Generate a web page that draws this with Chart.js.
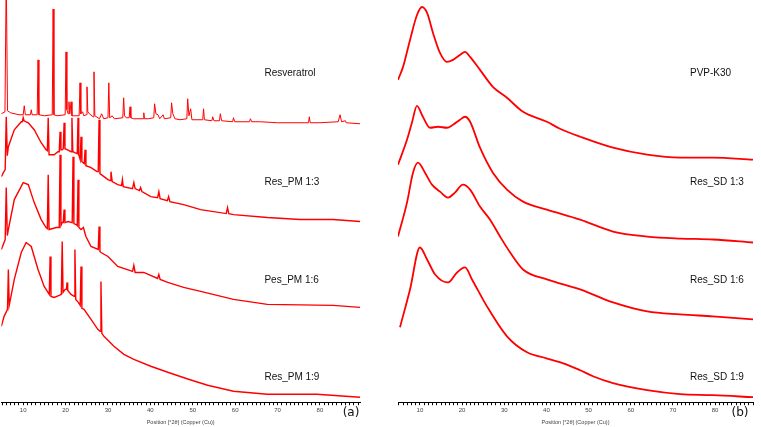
<!DOCTYPE html>
<html>
<head>
<meta charset="utf-8">
<script src="https://cdn.jsdelivr.net/npm/chart.js@4.4.0/dist/chart.umd.min.js"></script>
<style>
  html, body { margin: 0; padding: 0; background: #fff; }
  #wrap { position: relative; width: 761px; height: 427px; }
  #ca { position: absolute; left: 0; top: 0; }
  #cb { position: absolute; left: 380px; top: 0; }
</style>
</head>
<body>
<div id="wrap">
  <canvas id="ca" width="380" height="427"></canvas>
  <canvas id="cb" width="381" height="427"></canvas>
</div>
<script>
// ── Panel (a): physical mixtures, [2θ, intensity above own baseline] ─────────
const namesA   = ['Resveratrol', 'Res_PM 1:3', 'Pes_PM 1:6', 'Res_PM 1:9'];
const offsetsA = [279, 181, 95, 5];

const resveratrol = [
  [4.84,10],[5.7,12],[6.0,150],[6.3,13],[7.0,11],[9.0,9],[10.0,9],[10.25,18],[10.5,9],
  [11.7,9],[11.9,14],[12.1,9],[13.3,9],[13.5,64],[13.7,9],[15.0,8],[16.85,9],[17.06,115],
  [17.25,9],[18.0,8],[19.9,9],[20.1,72],[20.3,14],[20.6,10],[20.8,22],[21.0,10],[21.3,22],
  [21.5,8],[22.2,8],[23.2,8],[23.4,41],[23.6,10],[24.0,12],[24.3,8],[24.85,9],[25.05,37],
  [25.25,12],[25.6,10],[26.5,7],[26.7,52],[26.9,8],[28.0,5],[28.5,10],[29.0,5],[30.0,6],
  [30.2,41],[30.4,6],[31.0,8],[31.5,5],[33.5,6],[33.7,26],[33.9,8],[34.3,6],[35.0,6],
  [35.2,17],[35.4,6],[36.0,5],[38.3,5],[38.45,11],[38.6,5],[39.5,5],[40.8,6],[41.0,20],
  [41.3,10],[41.8,9],[42.2,5],[43.0,9],[43.3,5],[44.8,6],[45.0,21],[45.3,10],[45.8,5],
  [47.0,4],[48.6,5],[48.8,25],[49.1,8],[49.5,15],[49.8,4],[51.0,4],[52.35,4],[52.55,15],
  [52.75,4],[54.5,3],[54.7,7],[55.0,3],[56.3,3],[56.5,10],[56.8,3],[59.4,2],[59.6,6],
  [59.9,2],[63.4,2],[63.6,5],[63.9,2],[66.0,2],[70.0,1],[77.3,1],[77.5,7],[77.7,1],
  [80.0,1],[84.3,2],[84.75,9],[85.1,2],[86.0,3],[86.2,1],[89.45,0]
];

const resPM13 = [
  [4.84,45],[5.31,49],[5.75,52],[6.0,105],[6.25,66],[6.5,75],[7.9,92],[9.54,100],[9.8,100],
  [10.0,104],[10.2,101],[11.2,99],[12.6,92],[14.24,79],[15.4,72],[15.7,71],[15.9,104],
  [16.1,67],[17.3,67],[18.2,70],[18.5,70],[18.7,90],[18.9,72],[19.2,72],[19.45,73],
  [19.65,99],[19.85,73],[20.35,72],[21.3,70],[21.5,104],[21.7,70],[22.2,69],[22.75,68],
  [22.94,104],[23.1,67],[23.45,62],[23.64,85],[23.85,60],[24.4,58],[24.6,72],[24.8,56],
  [26.0,54],[27.4,50],[27.7,50],[27.9,102],[28.1,48],[29.05,45],[30.0,42],[30.5,41],
  [30.7,50],[31.0,40],[32.3,37],[33.2,36],[33.4,42],[33.6,35],[35.8,33],[36.1,39],
  [36.4,33],[37.4,31],[37.7,34],[38.0,30],[40.1,25],[41.7,24],[42.0,30],[42.3,23],
  [44.0,21],[44.3,25],[44.6,20],[47.85,17],[51.85,12],[57.9,8],[58.2,14],[58.5,8],
  [59.6,7],[67.6,4],[75.3,2],[83.1,2],[89.45,0]
];

const resPM16 = [
  [4.84,58],[5.75,68],[6.0,120],[6.25,72],[6.5,78],[7.9,108],[10.0,125],[11.2,123],
  [12.6,105],[14.24,88],[15.4,80],[15.7,79],[15.9,133],[16.1,78],[17.8,80],[18.5,80],
  [18.7,153],[18.9,82],[19.2,85],[19.45,85],[19.65,98],[19.85,85],[20.6,86],[21.56,85],
  [21.76,151],[21.96,84],[22.5,83],[22.75,82],[22.94,128],[23.14,80],[23.64,78],[24.2,80],
  [24.8,71],[26.0,61],[27.7,58],[27.9,81],[28.1,56],[28.34,55],[30.0,51],[32.3,41],
  [35.8,36],[36.1,42],[36.4,35],[38.45,35],[41.7,29],[42.0,33],[42.3,28],[44.1,25],
  [47.85,20],[51.85,16],[59.6,8],[67.6,3],[83.1,2],[89.45,0]
];

const resPM19 = [
  [4.84,71],[5.5,81],[6.3,88],[6.5,128],[6.7,92],[7.9,118],[9.54,145],[10.7,155],
  [11.9,151],[13.5,128],[14.95,111],[16.15,103],[16.35,141],[16.55,101],[17.3,100],
  [18.5,102],[19.0,103],[19.2,156],[19.4,105],[19.9,108],[20.2,108],[20.35,115],[20.5,107],
  [21.3,103],[22.0,101],[22.2,148],[22.4,98],[23.0,95],[23.45,92],[23.64,131],[23.85,89],
  [24.35,88],[26.0,78],[27.6,68],[28.15,66],[28.34,116],[28.55,64],[29.05,61],[31.4,51],
  [33.75,43],[36.1,38],[40.1,31],[44.1,25],[49.0,18],[53.5,12],[59.6,6],[67.6,3],
  [79.3,3],[89.45,0]
];

// ── Panel (b): solid dispersions ─────────────────────────────────────────────
const namesB   = ['PVP-K30', 'Res_SD 1:3', 'Res_SD 1:6', 'Res_SD 1:9'];
const offsetsB = [243, 160, 83, 5];

const pvpK30 = [
  [4.8,80],[6.0,93],[7.65,120],[9.3,145],[10.5,153],[11.7,147],[13.1,127],[14.76,107],
  [16.4,98],[17.85,100],[19.5,105],[20.7,108],[21.9,103],[24.25,90],[27.3,73],[30.65,62],
  [34.45,48],[40.1,38],[43.2,31],[48.0,23],[55.8,12],[63.9,5],[71.7,2],[79.5,2],[89.0,0]
];

const resSD13 = [
  [4.8,78],[6.93,103],[8.1,120],[9.3,137],[10.7,126],[12.4,115],[14.3,116],[16.4,115],
  [17.85,118],[19.5,123],[20.7,126],[21.9,121],[24.25,95],[27.3,70],[30.65,53],[34.45,41],
  [40.1,33],[48.0,23],[55.8,11],[63.9,6],[71.7,4],[79.5,3],[89.0,0]
];

const resSD16 = [
  [4.8,83],[6.93,117],[8.36,147],[9.54,157],[11.2,147],[12.86,135],[14.76,128],[16.66,122],
  [18.3,127],[20.2,135],[21.9,130],[24.25,113],[26.6,100],[29.0,83],[31.4,67],[34.45,50],
  [40.1,40],[48.0,30],[55.8,17],[63.9,8],[71.7,5],[79.5,3],[89.0,0]
];

const resSD19 = [
  [5.27,70],[7.65,108],[10.0,150],[11.7,138],[13.6,123],[16.66,115],[18.8,125],[20.7,130],
  [22.35,118],[25.9,91],[30.65,61],[35.4,45],[40.0,39],[44.0,34],[48.0,27],[51.05,21],
  [55.8,14],[63.9,7],[71.7,3],[79.5,2],[89.0,0]
];

const xTitle = 'Position [°2θ] (Copper (Cu))';
const RED = '#ff0000';

// trace names + panel letter, drawn straight on the canvas
const traceLabels = {
  id: 'traceLabels',
  afterDraw(chart, args, o) {
    const { ctx, scales: { x } } = chart;
    ctx.save();
    ctx.fillStyle = '#111';
    ctx.textBaseline = 'middle';
    ctx.font = '10px "Liberation Sans", Arial, sans-serif';
    o.names.forEach((n, i) => ctx.fillText(n, x.getPixelForValue(o.labelAt), o.rows[i]));
    ctx.font = '12px "DejaVu Sans", sans-serif';
    ctx.textAlign = 'center';
    ctx.fillText(o.letter, o.letterX, 413);
    ctx.restore();
  }
};

function makePanel(id, traces, offsets, names, opt) {
  return new Chart(document.getElementById(id), {
    type: 'line',
    data: {
      datasets: traces.map((pts, i) => ({
        data: pts.map(([t, v]) => ({ x: t, y: v + offsets[i] })),
        borderColor: RED,
        borderWidth: opt.lw[i],
        pointRadius: 0,
        fill: false,
        tension: 0,
        cubicInterpolationMode: opt.smooth ? 'monotone' : 'default',
      }))
    },
    options: {
      responsive: false,
      animation: false,
      events: [],
      layout: { padding: { left: opt.padL, right: opt.padR, top: 0, bottom: 0 } },
      plugins: {
        legend: { display: false },
        tooltip: { enabled: false },
        traceLabels: { names, rows: [73, 182, 280, 377], labelAt: opt.labelAt, letter: opt.letter, letterX: opt.letterX },
      },
      scales: {
        x: {
          type: 'linear',
          min: opt.xMin,
          max: opt.xMax,
          border: { display: true, color: '#000', width: 1 },
          grid: { drawOnChartArea: false, drawTicks: true, tickLength: 3, tickColor: '#000' },
          ticks: {
            stepSize: 1,
            autoSkip: false,
            maxRotation: 0,
            includeBounds: false,
            padding: 2,
            color: '#444',
            font: { family: '"Liberation Sans", Arial, sans-serif', size: 6 },
            callback: v => (v % 10 === 0 ? String(v) : ''),
          },
          title: {
            display: true,
            text: xTitle,
            color: '#444',
            font: { family: '"Liberation Sans", Arial, sans-serif', size: 5.5 },
            padding: { top: 3, bottom: 1 },
          },
        },
        y: { display: false, min: 0, max: 403 },
      },
    },
    plugins: [traceLabels],
  });
}

makePanel('ca', [resveratrol, resPM13, resPM16, resPM19], offsetsA, namesA,
  { xMin: 4.84, xMax: 89.45, padL: 0, padR: 20, lw: [1, 1.4, 1.4, 1.4], smooth: false, labelAt: 66.9, letter: '(a)', letterX: 351 });

makePanel('cb', [pvpK30, resSD13, resSD16, resSD19], offsetsB, namesB,
  { xMin: 4.8, xMax: 89.0, padL: 18, padR: 8, lw: [1.8, 1.8, 1.8, 1.8], smooth: true, labelAt: 74.06, letter: '(b)', letterX: 360 });
</script>
</body>
</html>
